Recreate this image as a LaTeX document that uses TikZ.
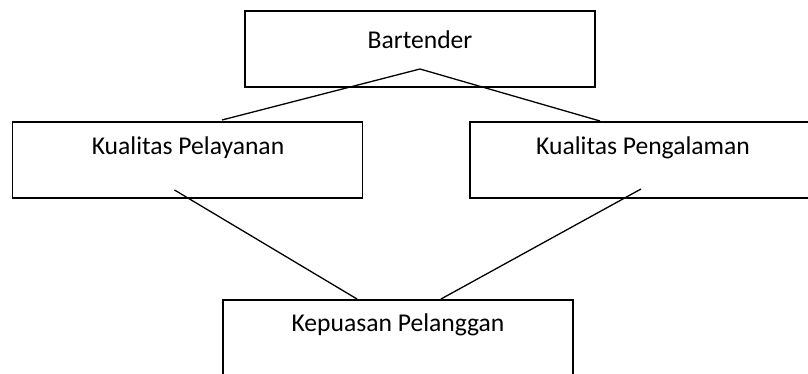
\documentclass[tikz,border=0pt]{standalone}
\usepackage{fontspec}
\setmainfont{Carlito}
\usepackage{tikz}
\usetikzlibrary{calc}
\usetikzlibrary{positioning}
\tikzstyle{box} = [rectangle, draw = black, inner sep = 0, minimum width = 175pt, minimum height = 38pt]
\tikzstyle{txt} = [draw=none, inner sep = 1, font = \fontsize{12.8}{15}\selectfont]

\begin{document}
\begin{tikzpicture}[x = 0.5pt, y = -0.5pt, line width = 0.65pt]
\useasboundingbox (0, 0) rectangle (808, 374);
\clip (0, 0) rectangle (808, 374);
\node [box] (B) at (420, 49) {};
\node [box] (P) at (187.5, 160) {};
\node [box] (G) at (645, 160) {};
\node [box] (K) at (398, 338) {};
\node [txt] (Bt) at (420, 40) {Bartender};
\node [txt] (Pt) at (188, 148) {Kualitas Pelayanan};
\node [txt] (Gt) at (643, 148) {Kualitas Pengalaman};
\node [txt] (Kt) at (398, 325) {Kepuasan Pelanggan};
%\coordinate ends of the connectors
\coordinate (b0) at (420, 69);
\coordinate (p0) at (222, 120);
\coordinate (g0) at (600, 121);
\coordinate (p1) at (174.5, 190);
\coordinate (g1) at (641, 189);
\coordinate (k0) at (357, 299);
\coordinate (k1) at (441, 299);
\draw [-, draw = black] (b0) to (p0);
\draw [-, draw = black] (b0) to (g0);
\draw [-, draw = black] (p1) to (k0);
\draw [-, draw = black] (g1) to (k1);
\end{tikzpicture}
\end{document}
